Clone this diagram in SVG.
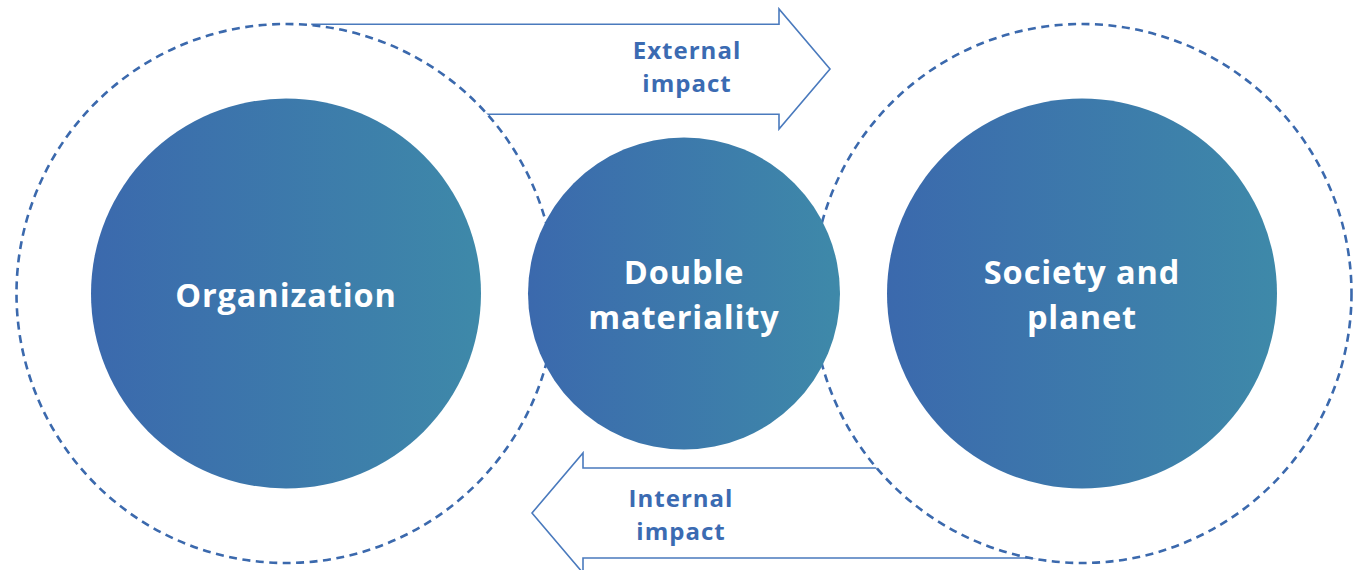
<svg xmlns="http://www.w3.org/2000/svg" width="1357" height="570" viewBox="0 0 1357 570">
  <defs>
    <linearGradient id="fillBlue" x1="0" y1="0" x2="1" y2="0">
      <stop offset="0" stop-color="#3b69ad"/>
      <stop offset="1" stop-color="#3e89a9"/>
    </linearGradient>
    <style>
      .arrow { fill: #ffffff; stroke: #4a7abd; stroke-width: 1.6; stroke-linejoin: miter; }
      .halo { fill: #ffffff; stroke: #3b69ad; stroke-width: 2.6; stroke-dasharray: 8 5.5; }
      .core { fill: url(#fillBlue); }
      .core-text { fill: #ffffff; font-family: "Open Sans", "DejaVu Sans", sans-serif; font-weight: 700; font-size: 32.5px; letter-spacing: 0.9px; text-anchor: middle; }
      .flow-text { fill: #3b6bb2; font-family: "Open Sans", "DejaVu Sans", sans-serif; font-weight: 700; font-size: 24px; letter-spacing: 1px; text-anchor: middle; }
    </style>
  </defs>

  <!-- block arrows between the two spheres -->
  <g id="connectors">
    <path class="arrow" d="M312 24.3 H779 V9 L830 69 L779 129 V114.3 H312 Z"/>
    <path class="arrow" d="M1120 468 H583 V453 L532 513 L583 573 V558 H1120 Z"/>
  </g>

  <!-- outer dashed spheres -->
  <g id="organization-sphere">
    <circle class="halo" cx="286" cy="293.5" r="269.5"/>
  </g>
  <g id="society-sphere">
    <circle class="halo" cx="1082" cy="293.5" r="269.5"/>
  </g>

  <!-- arrow labels -->
  <g id="external-impact">
    <text class="flow-text" x="687" y="59">External</text>
    <text class="flow-text" x="687" y="92">impact</text>
  </g>
  <g id="internal-impact">
    <text class="flow-text" x="681" y="507">Internal</text>
    <text class="flow-text" x="681" y="540">impact</text>
  </g>

  <!-- solid cores -->
  <g id="organization">
    <circle class="core" cx="286" cy="293.5" r="195"/>
    <text class="core-text" x="286" y="307">Organization</text>
  </g>
  <g id="double-materiality">
    <circle class="core" cx="684" cy="293.5" r="156"/>
    <text class="core-text" x="684" y="284">Double</text>
    <text class="core-text" x="684" y="329">materiality</text>
  </g>
  <g id="society-and-planet">
    <circle class="core" cx="1082" cy="293.5" r="195"/>
    <text class="core-text" x="1082" y="284">Society and</text>
    <text class="core-text" x="1082" y="329">planet</text>
  </g>
</svg>
